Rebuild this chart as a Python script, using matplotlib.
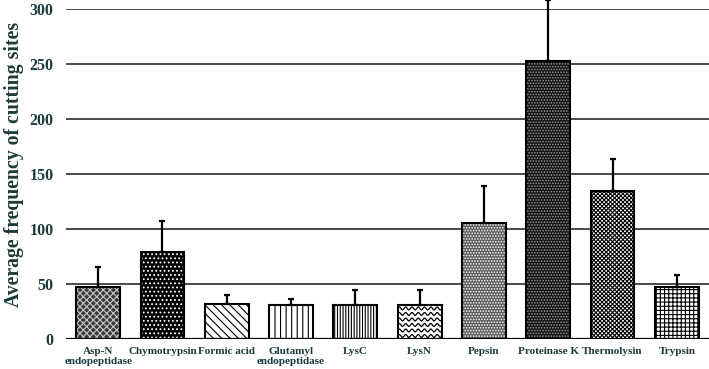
import numpy as np
import matplotlib
matplotlib.use("Agg")
import matplotlib.pyplot as plt

# values
ENZYMES = ["Asp-N\nendopeptidase", "Chymotrypsin", "Formic acid",
           "Glutamyl\nendopeptidase", "LysC", "LysN", "Pepsin",
           "Proteinase K", "Thermolysin", "Trypsin"]
MEANS = [47.3, 79.0, 31.8, 30.6, 30.6, 30.6, 105.0, 252.7, 134.5, 46.7]
ERRS = [18.2, 28.3, 8.2, 5.2, 13.7, 13.7, 33.5, 55.0, 28.5, 11.5]
YTICKS = [0, 50, 100, 150, 200, 250, 300]

# (face colour, hatch, hatch colour) per bar, "wave" is drawn by hand
STYLES = [("#3a3a3a", "xxxxx", "#c8c8c8"),
          ("#000000", "....", "#ffffff"),
          ("#ffffff", "\\\\\\\\", "#000000"),
          ("#ffffff", "|||", "#000000"),
          ("#ffffff", "||||||", "#000000"),
          ("#ffffff", "wave", "#000000"),
          ("#5a5a5a", "......", "#ffffff"),
          ("#111111", "......", "#9a9a9a"),
          ("#ffffff", "xxxxxxxx", "#000000"),
          ("#ffffff", "++++", "#000000")]

TXT = "#1c3a3a"
plt.rcParams["font.family"] = ["Liberation Serif", "DejaVu Serif"]
plt.rcParams["font.weight"] = "bold"
plt.rcParams["hatch.linewidth"] = 0.8


def main():
    fig = plt.figure(figsize=(7.09, 3.69), dpi=100)
    ax = fig.add_axes([0.0931, 0.0821, 0.9069, 0.8943])
    x = np.arange(len(ENZYMES))
    ax.set_xlim(-0.5, len(ENZYMES) - 0.5)
    ax.set_ylim(0, 300)

    for yt in YTICKS[1:]:
        ax.axhline(yt, color="#4a4a4a", lw=1.4, zorder=0)

    w = 0.68
    for i, (fc, h, hc) in enumerate(STYLES):
        if h == "wave":
            b = ax.bar(x[i], MEANS[i], w, color=fc, lw=0, zorder=2)[0]
            # wavy fill pattern, clipped to the bar
            xx = np.linspace(x[i] - w / 2, x[i] + w / 2, 200)
            per = 6.3 / 64.3      # ~6 px wavelength in data units
            for yb in np.arange(2.5, MEANS[i], 5.0):
                ln, = ax.plot(xx, yb + 1.3 * np.sin(2 * np.pi * (xx - xx[0]) / per),
                              color=hc, lw=0.9, zorder=2.5)
                ln.set_clip_path(b)
        else:
            ax.bar(x[i], MEANS[i], w, color=fc, hatch=h, edgecolor=hc, lw=0,
                   zorder=2)
        ax.bar(x[i], MEANS[i], w, facecolor="none", edgecolor="black", lw=1.5,
               zorder=3)

    eb = ax.errorbar(x, MEANS, yerr=[np.zeros(len(MEANS)), ERRS], fmt="none",
                     ecolor="black", elinewidth=1.6, capsize=2.3, capthick=1.6,
                     zorder=4)
    for art in eb.get_children():
        art.set_clip_on(False)

    ax.axhline(0, color="black", lw=1.6, zorder=5)
    for s in ax.spines.values():
        s.set_visible(False)

    ax.set_xticks(x)
    ax.set_xticklabels(ENZYMES, fontsize=8, color=TXT, fontweight="bold")
    ax.set_yticks(YTICKS)
    ax.set_yticklabels([str(v) for v in YTICKS], fontsize=11.5, color=TXT,
                       fontweight="bold")
    ax.tick_params(length=0)
    ax.tick_params(axis="x", pad=6)
    ax.tick_params(axis="y", pad=9)
    ax.set_ylabel("Average frequency of cutting sites", fontsize=14.2,
                  color=TXT, fontweight="bold")
    ax.yaxis.set_label_coords(-0.066, 0.529)

    fig.savefig("out.png", dpi=100)


if __name__ == "__main__":
    main()
